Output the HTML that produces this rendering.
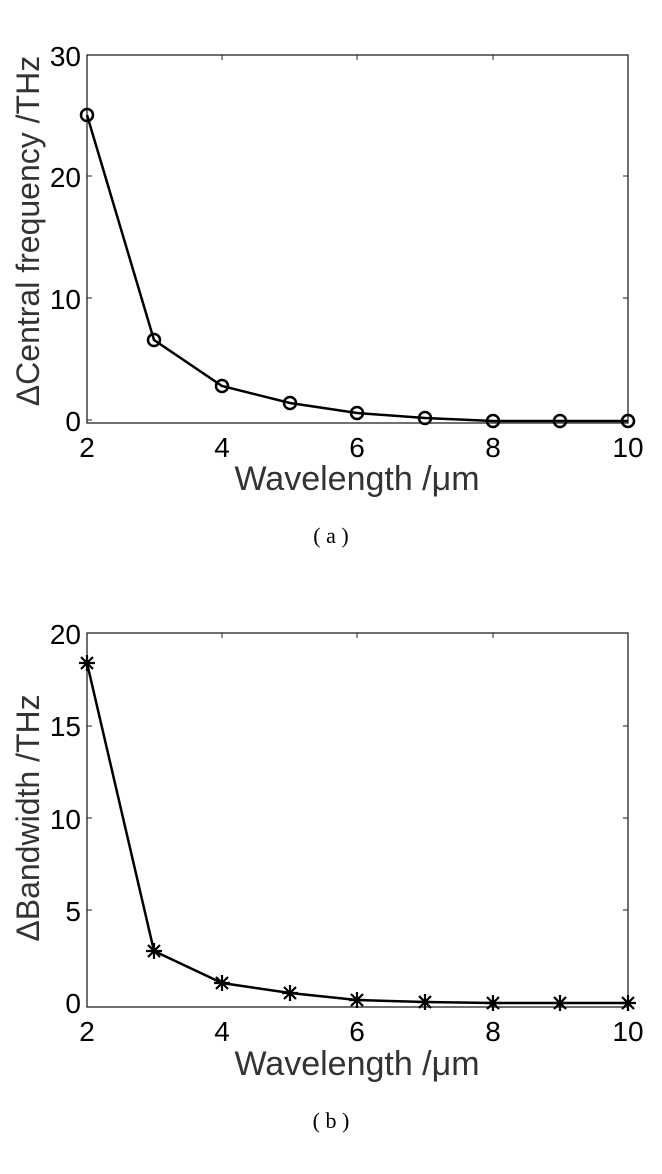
<!DOCTYPE html>
<html><head><style>body{margin:0;background:#fff}</style></head><body>
<svg width="662" height="1169" xmlns="http://www.w3.org/2000/svg" font-family="Liberation Sans, sans-serif">
<g>
<rect x="87" y="55" width="541" height="368" fill="none" stroke="#222" stroke-width="1.3"/>
<g stroke="#222" stroke-width="1">
<line x1="87" y1="55" x2="92" y2="55"/><line x1="87" y1="176" x2="92" y2="176"/><line x1="87" y1="298" x2="92" y2="298"/><line x1="87" y1="420" x2="92" y2="420"/>
<line x1="623" y1="176" x2="628" y2="176"/><line x1="623" y1="298" x2="628" y2="298"/>
<line x1="222" y1="55" x2="222" y2="60"/><line x1="357" y1="55" x2="357" y2="60"/><line x1="493" y1="55" x2="493" y2="60"/>
</g>
<g font-size="28" text-anchor="end" fill="#000">
<text x="81" y="66">30</text><text x="81" y="187">20</text><text x="81" y="309">10</text><text x="81" y="431">0</text>
</g>
<g font-size="28" text-anchor="middle" fill="#000">
<text x="87" y="457">2</text><text x="222" y="457">4</text><text x="357" y="457">6</text><text x="493" y="457">8</text><text x="628" y="457">10</text>
</g>
<text x="357" y="490" font-size="34" text-anchor="middle" fill="#333">Wavelength /μm</text>
<text transform="translate(39,231) rotate(-90)" font-size="32" text-anchor="middle" fill="#333">ΔCentral frequency /THz</text>
<polyline fill="none" stroke="#000" stroke-width="2.5" points="87,115 154,340 222,386 290,403 357,413 425,418 493,421 560,421 628,421"/>
<g fill="none" stroke="#000" stroke-width="2.5">
<circle cx="87" cy="115" r="6"/><circle cx="154" cy="340" r="6"/><circle cx="222" cy="386" r="6"/><circle cx="290" cy="403" r="6"/><circle cx="357" cy="413" r="6"/><circle cx="425" cy="418" r="6"/><circle cx="493" cy="421" r="6"/><circle cx="560" cy="421" r="6"/><circle cx="628" cy="421" r="6"/>
</g>
<text x="331" y="543" font-size="22" text-anchor="middle" font-family="Liberation Serif, serif">( a )</text>
</g>
<g>
<rect x="87" y="633" width="541" height="374" fill="none" stroke="#222" stroke-width="1.3"/>
<g stroke="#222" stroke-width="1">
<line x1="87" y1="726" x2="92" y2="726"/><line x1="87" y1="818" x2="92" y2="818"/><line x1="87" y1="910" x2="92" y2="910"/>
<line x1="623" y1="726" x2="628" y2="726"/><line x1="623" y1="818" x2="628" y2="818"/><line x1="623" y1="910" x2="628" y2="910"/>
<line x1="222" y1="633" x2="222" y2="638"/><line x1="357" y1="633" x2="357" y2="638"/><line x1="493" y1="633" x2="493" y2="638"/>
</g>
<g font-size="28" text-anchor="end" fill="#000">
<text x="81" y="644">20</text><text x="81" y="736">15</text><text x="81" y="829">10</text><text x="81" y="921">5</text><text x="81" y="1013">0</text>
</g>
<g font-size="28" text-anchor="middle" fill="#000">
<text x="87" y="1041">2</text><text x="222" y="1041">4</text><text x="357" y="1041">6</text><text x="493" y="1041">8</text><text x="628" y="1041">10</text>
</g>
<text x="357" y="1075" font-size="34" text-anchor="middle" fill="#333">Wavelength /μm</text>
<text transform="translate(39,818) rotate(-90)" font-size="32" text-anchor="middle" fill="#333">ΔBandwidth /THz</text>
<polyline fill="none" stroke="#000" stroke-width="2.5" points="87,663 154,951 222,983 290,993 357,1000 425,1002 493,1003 560,1003 628,1003"/>
<g stroke="#000" stroke-width="2.2">
<path d="M79,663h16M87,655v16M81,657l12,12M93,657l-12,12"/>
<path d="M146,951h16M154,943v16M148,945l12,12M160,945l-12,12"/>
<path d="M214,983h16M222,975v16M216,977l12,12M228,977l-12,12"/>
<path d="M282,993h16M290,985v16M284,987l12,12M296,987l-12,12"/>
<path d="M349,1000h16M357,992v16M351,994l12,12M363,994l-12,12"/>
<path d="M417,1002h16M425,994v16M419,996l12,12M431,996l-12,12"/>
<path d="M485,1003h16M493,995v16M487,997l12,12M499,997l-12,12"/>
<path d="M552,1003h16M560,995v16M554,997l12,12M566,997l-12,12"/>
<path d="M620,1003h16M628,995v16M622,997l12,12M634,997l-12,12"/>
</g>
<text x="331" y="1128" font-size="22" text-anchor="middle" font-family="Liberation Serif, serif">( b )</text>
</g>
</svg>
</body></html>
